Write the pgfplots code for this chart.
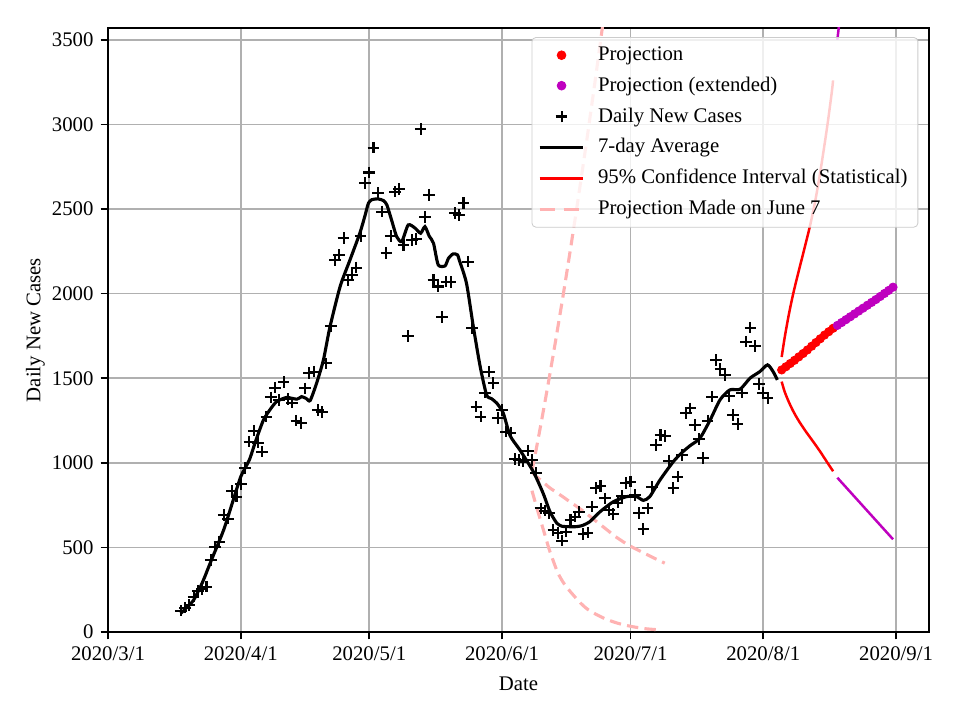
\documentclass[border=0pt]{standalone}
\usepackage{fontspec}
\setmainfont{Liberation Serif}
\usepackage{pgfplots}
\pgfplotsset{compat=1.18}
\definecolor{projred}{RGB}{255,0,0}
\definecolor{projmag}{RGB}{191,0,191}
\definecolor{pinkproj}{RGB}{255,178,178}
\definecolor{gridgray}{RGB}{176,176,176}
\definecolor{legframe}{RGB}{204,204,204}

\pgfplotstableread{
d v
17 126
18 144
19 158
20 209
21 244
22 255
23 268
24 426
25 501
26 534
27 690
28 670
29 834
30 800
31 875
32 968
33 1125
34 1190
35 1119
36 1066
37 1273
38 1387
39 1444
40 1372
41 1476
42 1377
43 1356
44 1249
45 1237
46 1440
47 1529
48 1539
49 1312
50 1299
51 1588
52 1809
53 2199
54 2229
55 2328
56 2081
57 2111
58 2154
59 2341
60 2653
61 2716
62 2863
63 2594
64 2485
65 2239
66 2341
67 2603
68 2619
69 2288
70 1750
71 2318
72 2322
73 2974
74 2452
75 2584
76 2081
77 2042
78 1861
79 2071
80 2067
81 2475
82 2465
83 2534
84 2189
85 1795
86 1332
87 1273
88 1415
89 1539
90 1470
91 1263
92 1313
93 1184
94 1175
95 1021
96 1017
97 1007
98 1072
99 1017
100 938
101 731
102 717
103 702
104 603
105 584
106 540
107 593
108 662
109 682
110 711
111 579
112 587
113 741
114 850
115 863
116 790
117 721
118 698
119 765
120 804
121 879
122 889
123 810
124 702
125 609
126 731
127 859
128 1106
129 1165
130 1159
131 1013
132 850
133 918
134 1046
135 1293
136 1322
137 1224
138 1139
139 1027
140 1249
141 1391
142 1608
143 1555
144 1519
145 1395
146 1283
147 1230
148 1415
149 1716
150 1799
151 1691
152 1466
153 1411
154 1381
}\daily

\pgfplotstableread{
d v
17 110
18 135
19 160
20 189
22 290
24 416
27 603
29 760
31 918
33 1017
34.5 1130
36.3 1253
38 1320
39.4 1362
41.7 1386
44.1 1376
45.2 1391
46.3 1380
47.2 1368
48.7 1470
50.3 1608
51.8 1800
54.2 2042
56.5 2199
58.8 2357
60 2460
60.8 2534
61.6 2555
63 2560
64.3 2550
65.1 2525
66.2 2436
67.4 2337
68.6 2308
70.1 2406
71.7 2387
73.0 2357
74.0 2396
75 2340
76.0 2298
77.1 2170
78.7 2164
79.5 2209
80.6 2235
81.6 2229
82.0 2200
83.7 2062
85.3 1805
86.9 1569
88.4 1401
89.5 1380
90.8 1352
92.3 1293
93.9 1160
96.2 1075
99.3 948
101.6 820
103.2 711
104.8 643
106 625
107.1 623
109 622
110.6 628
112.5 652
114.9 711
118.0 770
121.1 800
123.4 800
125.0 778
126.5 800
128.9 899
132.0 1007
134 1060
135.9 1101
138.2 1145
140.6 1253
142.9 1372
145.2 1431
147.6 1435
149.9 1500
152.2 1539
154.0 1579
155.3 1539
156.3 1490
}\avg

\begin{document}
\begin{tikzpicture}
\begin{axis}[
  at={(0,0)}, anchor=south west,
  scale only axis, width=5.4733in, height=4.0267in,
  xmin=0, xmax=191.7, ymin=0, ymax=3570,
  xtick={0,31,61,92,122,153,184},
  xticklabels={2020/3/1,2020/4/1,2020/5/1,2020/6/1,2020/7/1,2020/8/1,2020/9/1},
  ytick={0,500,1000,1500,2000,2500,3000,3500},
  scaled y ticks=false,
  /pgf/number format/1000 sep={},
  /pgf/number format/assume math mode=true,
  grid=major, grid style={gridgray, line width=0.8pt},
  axis line style={line width=0.8pt},
  tick align=outside, tick pos=left, major tick length=3.5pt,
  tick style={black, line width=0.8pt},
  xlabel={Date}, ylabel={Daily New Cases},
  ylabel shift=-3.5pt,
  xlabel shift=1pt,
  legend cell align=left,
  legend style={at={(0.987,0.985)}, anchor=north east, draw=legframe,
    rounded corners=2pt, fill=white, fill opacity=0.8, draw opacity=1,
    text opacity=1, font=\normalsize, row sep=2.4pt, inner xsep=3pt, inner ysep=2.5pt,
    /tikz/every odd column/.append style={column sep=4.3pt}},
]
\addlegendimage{legend image code/.code={\fill[projred, fill opacity=1] (0.37cm,0) circle (2.1pt);}}
\addlegendentry{Projection}
\addlegendimage{legend image code/.code={\fill[projmag, fill opacity=1] (0.37cm,0) circle (2.1pt);}}
\addlegendentry{Projection (extended)}
\addlegendimage{legend image code/.code={\draw[black,line width=1pt] (0.37cm-2.8pt,0)--(0.37cm+2.8pt,0) (0.37cm,-2.8pt)--(0.37cm,2.8pt);}}
\addlegendentry{Daily New Cases}
\addlegendimage{legend image code/.code={\draw[black,line width=1.5pt] (0,0)--(0.74cm,0);}}
\addlegendentry{7-day Average}
\addlegendimage{legend image code/.code={\draw[projred,line width=1.5pt] (0,0)--(0.74cm,0);}}
\addlegendentry{95\% Confidence Interval (Statistical)}
\addlegendimage{legend image code/.code={\draw[pinkproj,line width=1.5pt,dash pattern=on 7.5pt off 4pt] (0,0)--(0.74cm,0);}}
\addlegendentry{Projection Made on June 7}

% projection made on June 7 (upper, central, lower)
\addplot[forget plot, pinkproj, line width=1.5pt, dash pattern=on 5.5pt off 3pt, smooth] coordinates {
(99,950) (100,1082) (101,1217) (102,1356) (103,1499) (104,1645) (105,1795) (106,1948) (107,2105) (108,2266) (109,2430) (110,2598) (111,2769) (112,2944) (113,3123) (114,3305) (115,3491) (116,3680)};
\addplot[forget plot, pinkproj, line width=1.5pt, dash pattern=on 5.5pt off 3pt, smooth] coordinates {
(99,945) (100,920) (101,898) (102,877) (103,855) (104,837) (105,820) (106,803) (107,785) (108,767) (109,750) (110,732) (111,714) (112,694) (113,674) (114,654) (115,634) (116,614) (117,594) (118,573) (119,555) (120,538) (121,522) (122,507) (123,494) (124,481) (125,468) (126,456) (127,443) (128,431) (129,419) (130,407)};
\addplot[forget plot, pinkproj, line width=1.5pt, dash pattern=on 5.5pt off 3pt, smooth] coordinates {
(99,835) (100,745) (101,660) (102,575) (103,490) (104,418) (105,352) (106,305) (107,268) (108,237) (109,208) (110,180) (111,155) (112,134) (113,118) (114,104) (115,91) (116,79) (117,69) (118,60) (119,52) (120,45) (121,39) (122,34) (123,29) (124,25) (125,21) (126,18) (127,16) (128,14) (129,12)};

% daily cases
\addplot[forget plot, only marks, mark=+, mark size=2.8pt, mark options={black, line width=1pt}] table[x=d, y=v] {\daily};
% 7-day average
\addplot[forget plot, black, line width=1.5pt, smooth, tension=0.4] table[x=d, y=v] {\avg};

% 95% CI statistical
\addplot[forget plot, projred, line width=1.2pt, smooth] coordinates {
(157.3,1625) (158,1740) (159,1880) (160,2000) (161,2105) (162,2205) (163,2305) (164,2410) (165,2530) (166,2670) (167,2830) (168,3000) (169,3190) (169.3,3260)};
\addplot[forget plot, projred, line width=1.2pt, smooth] coordinates {
(157.3,1480) (158,1420) (159,1358) (160,1305) (161,1260) (162,1220) (163,1183) (164,1148) (165,1113) (166,1077) (167,1039) (168,1000) (169,962) (169.3,950)};
\addplot[forget plot, projmag, line width=1.2pt, smooth] coordinates {
(170.3,3500) (171.3,3720)};
\addplot[forget plot, projmag, line width=1.2pt, smooth] coordinates {
(170.3,912) (171.3,884) (172.3,856) (173.3,828) (174.3,800) (175.3,772) (176.3,744) (177.3,716) (178.3,688) (179.3,660) (180.3,632) (181.3,604) (182.3,576) (183.3,548)};

% projection dots
\addplot[forget plot, only marks, mark=*, mark size=2pt, projred, mark options={draw=projred, fill=projred}] coordinates {
(157.3,1549) (158.3,1568) (159.3,1587) (160.3,1606) (161.3,1626) (162.3,1646) (163.3,1667) (164.3,1689) (165.3,1711) (166.3,1733) (167.3,1755) (168.3,1775) (169.3,1795)};
\addplot[forget plot, only marks, mark=*, mark size=2pt, projmag, mark options={draw=projmag, fill=projmag}] coordinates {
(170.3,1812) (171.3,1829) (172.3,1846) (173.3,1863) (174.3,1880) (175.3,1897) (176.3,1914) (177.3,1931) (178.3,1948) (179.3,1965) (180.3,1983) (181.3,2001) (182.3,2019) (183.3,2038)};
\end{axis}
\pgfresetboundingbox
\path[use as bounding box] (-0.72in,-0.5867in) rectangle (5.68in,4.2133in);
\end{tikzpicture}
\end{document}
